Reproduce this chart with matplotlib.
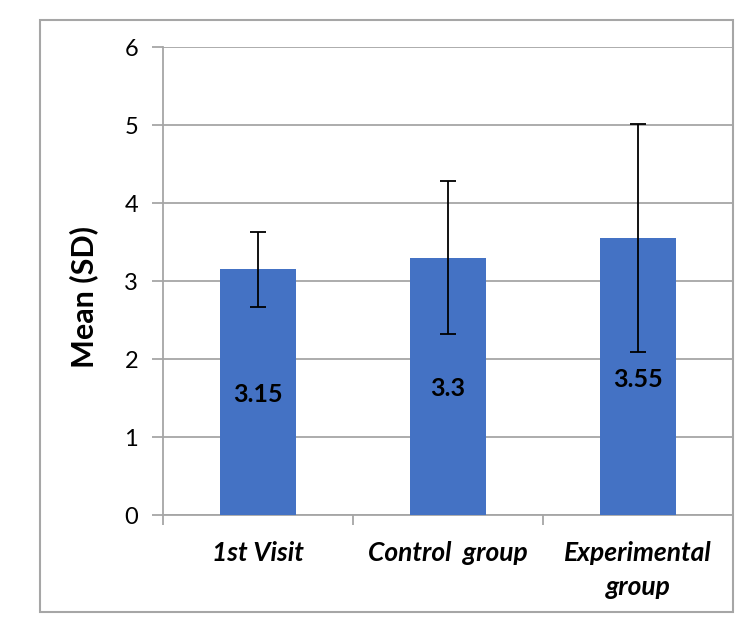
import matplotlib
matplotlib.use("Agg")
import matplotlib.pyplot as plt
from matplotlib.patches import Rectangle

categories = ["1st Visit", "Control  group", "Experimental\ngroup"]
means = [3.15, 3.3, 3.55]
sds = [0.48, 0.98, 1.46]
yticks = [0, 1, 2, 3, 4, 5, 6]

plt.rcParams['font.family'] = ['Lato', 'DejaVu Sans']

fig = plt.figure(figsize=(7.5, 6.38), dpi=100)
ax = fig.add_axes([163/750, 1-515/638, 570/750, 468/638])

# outer border
fig.patches.append(Rectangle((40/750, 1-612/638), 693/750, 592/638,
                             transform=fig.transFigure, fill=False,
                             edgecolor='#a6a6a6', linewidth=1.5))

x = list(range(len(categories)))
ax.bar(x, means, width=0.4, color='#4472C4', zorder=3)
ax.errorbar(x, means, yerr=sds, fmt='none', ecolor='black', elinewidth=1.3,
            capsize=6, capthick=1.3, zorder=4)

for xi, v in zip(x, means):
    ax.text(xi, v*0.49, f"{v:g}", ha='center', va='center',
            fontsize=18, fontweight='bold', color='black', zorder=5)

ax.set_xlim(-0.5, len(categories)-0.5)
ax.set_ylim(0, 6)
ax.set_yticks(yticks)
ax.set_yticklabels([str(t) for t in yticks], fontsize=17)
ax.yaxis.grid(True, color='#a6a6a6', linewidth=1.3, zorder=0)
ax.set_axisbelow(True)

ax.set_xticks([i - 0.5 for i in range(len(categories)+1)])
ax.set_xticklabels([])
ax.tick_params(axis='x', length=7, color='#a6a6a6', width=1.3, direction='out')
ax.tick_params(axis='y', length=8, color='#a6a6a6', width=1.3, pad=10)

for xi, lab in zip(x, categories):
    ax.text(xi, -0.33, lab, ha='center', va='top', fontsize=19,
            fontweight='bold', fontstyle='italic', linespacing=1.5)

for s in ['top', 'right']:
    ax.spines[s].set_visible(False)
ax.spines['left'].set_color('#a6a6a6')
ax.spines['bottom'].set_color('#a6a6a6')
ax.spines['left'].set_linewidth(1.3)
ax.spines['bottom'].set_linewidth(1.3)

ax.set_ylabel("Mean (SD)", fontsize=22, fontweight='bold')
ax.yaxis.set_label_coords(-79/570, 218/468)
ax.yaxis.label.set_va('center')

fig.savefig("out.png", dpi=100)
